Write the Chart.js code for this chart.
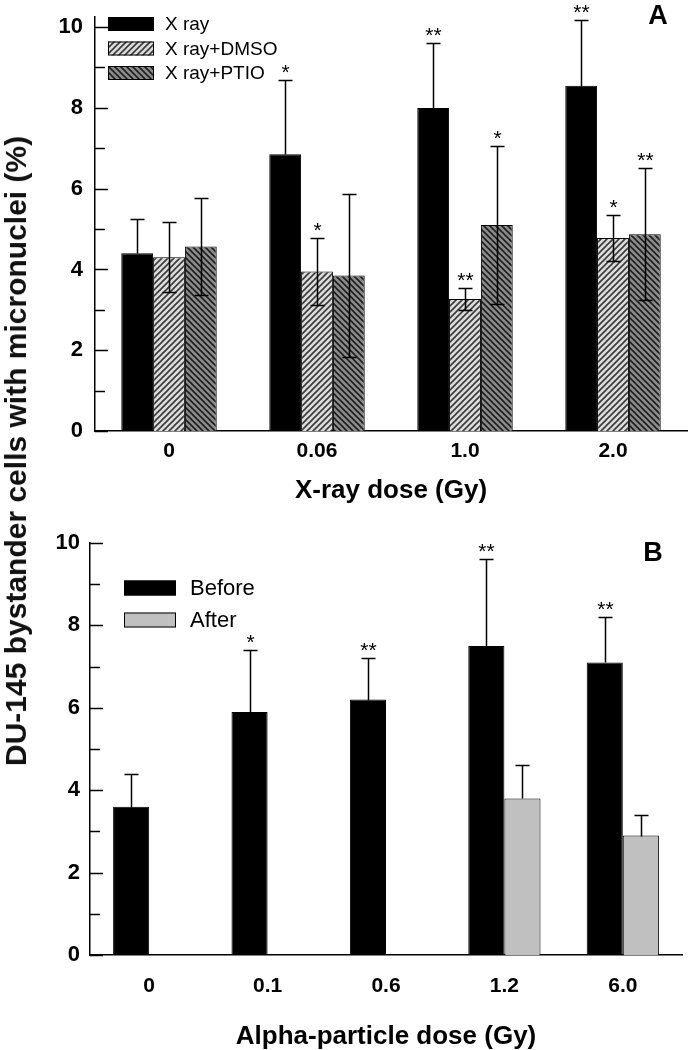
<!DOCTYPE html>
<html>
<head>
<meta charset="utf-8">
<script src="https://cdn.jsdelivr.net/npm/chart.js@4.4.1/dist/chart.umd.min.js"></script>
<style>
  html, body { margin: 0; padding: 0; background: #fff; }
  #wrap { position: relative; width: 688px; height: 1050px; overflow: hidden; }
  #chartA { position: absolute; left: 0; top: 0; width: 688px; height: 504px; }
  #chartB { position: absolute; left: 0; top: 504px; width: 688px; height: 546px; }
  #ylabel {
    position: absolute; left: 16px; top: 451px;
    transform: translate(-50%, -50%) rotate(-90deg);
    font: bold 30px "Liberation Sans", Arial, sans-serif;
    white-space: nowrap; color: #111;
  }
</style>
</head>
<body>
<div id="wrap">
  <canvas id="chartA" width="688" height="504"></canvas>
  <canvas id="chartB" width="688" height="546"></canvas>
  <div id="ylabel">DU-145 bystander cells with micronuclei (%)</div>
</div>
<script>
// Panel A: X-ray dose
const xrayDoses = ['0', '0.06', '1.0', '2.0'];
const xrayMean = [4.4, 6.85, 8.0, 8.55];
const xrayErr = [0.85, 1.85, 1.6, 1.62];
const xraySig = ['', '*', '**', '**'];
const dmsoMean = [4.3, 3.95, 3.27, 4.78];
const dmsoErr = [0.87, 0.82, 0.27, 0.58];
const dmsoSig = ['', '*', '**', '*'];
const ptioMean = [4.57, 3.85, 5.1, 4.87];
const ptioErr = [1.2, 2.02, 1.95, 1.63];
const ptioSig = ['', '', '*', '**'];

// Panel B: alpha-particle dose
const alphaDoses = ['0', '0.1', '0.6', '1.2', '6.0'];
const beforeMean = [3.6, 5.9, 6.2, 7.5, 7.1];
const beforeErr = [0.8, 1.5, 1.0, 2.1, 1.1];
const beforeSig = ['', '*', '**', '**', '**'];
const afterMean = [null, null, null, 3.8, 2.9];
const afterErr = [null, null, null, 0.8, 0.5];

// labelled y ticks (odd values get a minor tick only)
const yLabelTicks = [0, 2, 4, 6, 8, 10];

const FONT = '"Liberation Sans", Arial, Helvetica, sans-serif';

function hatch(bg, fg, dir) {
    const c = document.createElement('canvas');
    c.width = 6; c.height = 6;
    const g = c.getContext('2d');
    g.fillStyle = bg;
    g.fillRect(0, 0, 6, 6);
    g.strokeStyle = fg;
    g.lineWidth = 1.6;
    g.beginPath();
    if (dir > 0) {
        g.moveTo(-1, 7); g.lineTo(7, -1);
        g.moveTo(-1, 1); g.lineTo(1, -1);
        g.moveTo(5, 7); g.lineTo(7, 5);
    } else {
        g.moveTo(-1, -1); g.lineTo(7, 7);
        g.moveTo(5, -1); g.lineTo(7, 1);
        g.moveTo(-1, 5); g.lineTo(1, 7);
    }
    g.stroke();
    return g.createPattern(c, 'repeat');
}

// tick marks pointing into the plot
const innerTicks = {
    id: 'innerTicks',
    afterDraw(chart) {
        const y = chart.scales.y, ctx = chart.ctx;
        ctx.save();
        ctx.strokeStyle = '#000';
        ctx.lineWidth = 1.5;
        y.ticks.forEach(t => {
            const py = Math.round(y.getPixelForValue(t.value)) + 0.5;
            const len = t.value % 2 === 0 ? 13 : 10;
            ctx.beginPath();
            ctx.moveTo(y.right, py);
            ctx.lineTo(y.right + len, py);
            ctx.stroke();
        });
        ctx.restore();
    }
};

// error bars + significance stars
const errorBars = {
    id: 'errorBars',
    afterDatasetsDraw(chart) {
        const ctx = chart.ctx, ys = chart.scales.y;
        ctx.save();
        ctx.strokeStyle = '#000';
        ctx.lineWidth = 1.5;
        chart.data.datasets.forEach((ds, i) => {
            const meta = chart.getDatasetMeta(i);
            meta.data.forEach((bar, j) => {
                const v = ds.data[j], e = ds.err[j];
                if (v == null || e == null) return;
                const x = Math.round(bar.x) + 0.5;
                const top = Math.round(ys.getPixelForValue(v + e)) + 0.5;
                const bot = Math.round(ys.getPixelForValue(ds.errDown ? v - e : v)) + 0.5;
                ctx.beginPath();
                ctx.moveTo(x, bot); ctx.lineTo(x, top);
                ctx.moveTo(x - 7, top); ctx.lineTo(x + 7, top);
                if (ds.errDown) { ctx.moveTo(x - 7, bot); ctx.lineTo(x + 7, bot); }
                ctx.stroke();
                const s = ds.sig && ds.sig[j];
                if (s) {
                    ctx.fillStyle = '#000';
                    ctx.font = '21px ' + FONT;
                    ctx.textAlign = 'center';
                    ctx.textBaseline = 'alphabetic';
                    ctx.fillText(s, x, top - 2);
                }
            });
        });
        ctx.restore();
    }
};

const boxLegend = {
    id: 'boxLegend',
    afterDraw(chart, args, o) {
        const ctx = chart.ctx;
        ctx.save();
        ctx.font = o.size + 'px ' + FONT;
        ctx.textBaseline = 'middle';
        ctx.textAlign = 'left';
        chart.data.datasets.forEach((ds, i) => {
            const cy = o.y + i * o.dy;
            ctx.fillStyle = ds.backgroundColor;
            ctx.fillRect(o.x, cy - o.h / 2, o.w, o.h);
            ctx.strokeStyle = '#000';
            ctx.lineWidth = 1;
            ctx.strokeRect(o.x + 0.5, cy - o.h / 2 + 0.5, o.w - 1, o.h - 1);
            ctx.fillStyle = '#000';
            ctx.fillText(ds.label, o.textX, cy + 1);
        });
        ctx.restore();
    }
};

const panelTag = {
    id: 'panelTag',
    afterDraw(chart, args, o) {
        const ctx = chart.ctx;
        ctx.save();
        ctx.font = 'bold 27px ' + FONT;
        ctx.fillStyle = '#000';
        ctx.textAlign = 'center';
        ctx.textBaseline = 'middle';
        ctx.fillText(o.text, o.x, o.y);
        ctx.restore();
    }
};

function makeChart(id, labels, datasets, cfg) {
    return new Chart(document.getElementById(id), {
        type: 'bar',
        data: { labels: labels, datasets: datasets },
        plugins: [innerTicks, errorBars, boxLegend, panelTag],
        options: {
            responsive: false,
            animation: false,
            layout: { padding: { top: cfg.top, right: cfg.right, left: 0, bottom: 0 } },
            plugins: {
                legend: { display: false },
                tooltip: { enabled: false },
                boxLegend: cfg.legend,
                panelTag: cfg.tag
            },
            scales: {
                x: {
                    grid: { display: false, drawTicks: false },
                    border: { display: true, color: '#000', width: 1.5 },
                    ticks: {
                        color: '#000', padding: cfg.xPad, maxRotation: 0,
                        font: { family: FONT, size: 21, weight: 'bold' }
                    },
                    title: {
                        display: true, text: cfg.xTitle, color: '#000', padding: 0,
                        font: { family: FONT, size: 26, weight: 'bold', lineHeight: 1 }
                    },
                    afterFit(s) { s.height = cfg.xH; s.paddingLeft = 0; s.paddingRight = 0; }
                },
                y: {
                    min: 0, max: cfg.yMax,
                    grid: { display: false, drawTicks: false },
                    border: { display: true, color: '#000', width: 1.5 },
                    ticks: {
                        stepSize: 1, includeBounds: false, autoSkip: false,
                        padding: cfg.yPad, color: '#000',
                        font: { family: FONT, size: 22, weight: 'bold' },
                        callback: v => yLabelTicks.includes(v) ? String(v) : ''
                    },
                    afterFit(s) { s.width = cfg.yW; s.paddingTop = 0; s.paddingBottom = 0; }
                }
            }
        }
    });
}

const dmsoFill = hatch('#dcdcdc', '#3a3a3a', 1);
const ptioFill = hatch('#8c8c8c', '#1e1e1e', -1);

makeChart('chartA', xrayDoses, [
    { label: 'X ray', data: xrayMean, err: xrayErr, sig: xraySig, errDown: false,
      backgroundColor: '#000', borderColor: '#000', borderWidth: 1,
      barPercentage: 1, categoryPercentage: 0.645 },
    { label: 'X ray+DMSO', data: dmsoMean, err: dmsoErr, sig: dmsoSig, errDown: true,
      backgroundColor: dmsoFill, borderColor: '#000', borderWidth: 1,
      barPercentage: 1, categoryPercentage: 0.645 },
    { label: 'X ray+PTIO', data: ptioMean, err: ptioErr, sig: ptioSig, errDown: true,
      backgroundColor: ptioFill, borderColor: '#000', borderWidth: 1,
      barPercentage: 1, categoryPercentage: 0.645 }
], {
    top: 17, right: 1, yW: 95, xH: 73, xPad: 8, yPad: 12, yMax: 10.25,
    xTitle: 'X-ray dose (Gy)',
    legend: { x: 108, y: 24, dy: 24.5, w: 46, h: 14, textX: 165, size: 19 },
    tag: { text: 'A', x: 658, y: 17 }
});

makeChart('chartB', alphaDoses, [
    { label: 'Before', data: beforeMean, err: beforeErr, sig: beforeSig, errDown: false,
      backgroundColor: '#000', borderColor: '#000', borderWidth: 1,
      barPercentage: 1, categoryPercentage: 0.61 },
    { label: 'After', data: afterMean, err: afterErr, errDown: false,
      backgroundColor: '#c0c0c0', borderColor: '#000', borderWidth: 1,
      barPercentage: 1, categoryPercentage: 0.61 }
], {
    top: 39, right: 6, yW: 90, xH: 95, xPad: 19, yPad: 10, yMax: 10,
    xTitle: 'Alpha-particle dose (Gy)',
    legend: { x: 124, y: 84, dy: 32, w: 52, h: 15, textX: 190, size: 22 },
    tag: { text: 'B', x: 653, y: 50 }
});
</script>
</body>
</html>
